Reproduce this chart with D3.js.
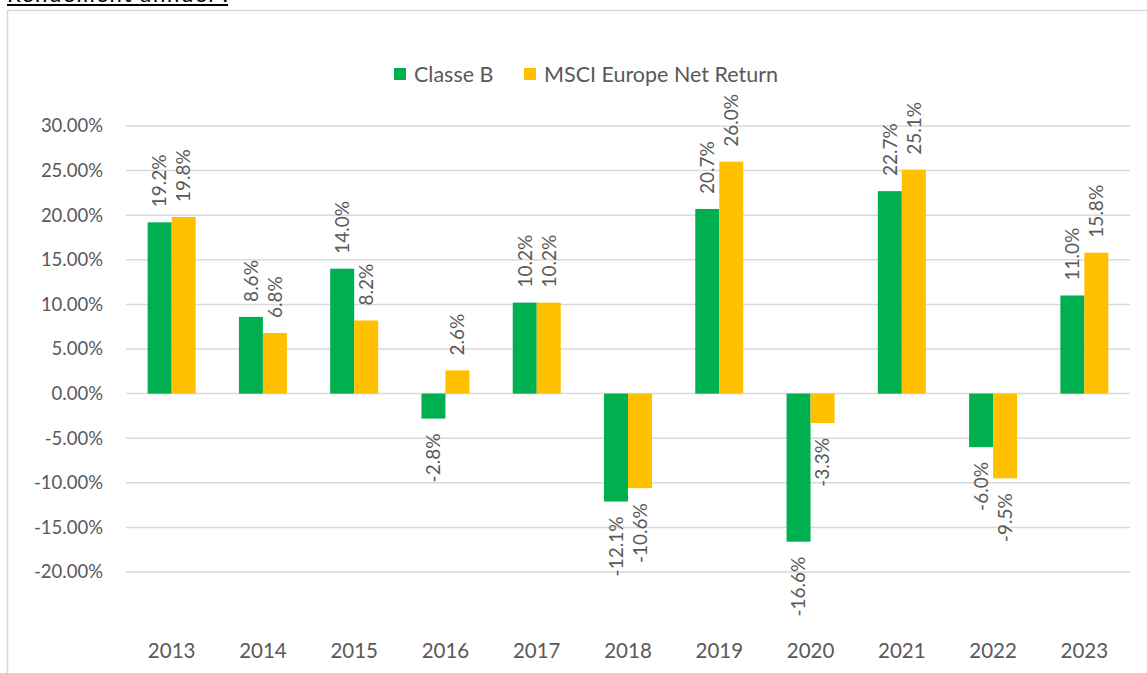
<!DOCTYPE html>
<html>
<head>
<meta charset="utf-8">
<script src="https://cdn.jsdelivr.net/npm/d3@7"></script>
<style>
  body { margin: 0; background: #fff; }
  svg { display: block; font-family: Lato, "Open Sans", sans-serif; }
</style>
</head>
<body>
<div id="container"></div>
<script>
const width = 1147,
    height = 673,
    margin = { top: 126, bottom: 56, left: 126, right: 17 };

// DATA
const years = ["2013", "2014", "2015", "2016", "2017", "2018", "2019", "2020", "2021", "2022", "2023"];
const classeB = [19.2, 8.6, 14.0, -2.8, 10.2, -12.1, 20.7, -16.6, 22.7, -6.0, 11.0];
const msciEurope = [19.8, 6.8, 8.2, 2.6, 10.2, -10.6, 26.0, -3.3, 25.1, -9.5, 15.8];
const seriesNames = ["Classe B", "MSCI Europe Net Return"];
const seriesColors = ["#00B050", "#FFC000"];
const yTicks = [-20, -15, -10, -5, 0, 5, 10, 15, 20, 25, 30];

// table used for the bars
const data = years.map((y, i) => ({ year: y, values: [classeB[i], msciEurope[i]] }));

/**SCALES*/
const xScale = d3.scaleBand()
    .domain(years)
    .range([margin.left, width - margin.right])
    .paddingInner(0.474)
    .paddingOuter(0.237);

const subScale = d3.scaleBand()
    .domain([0, 1])
    .range([0, xScale.bandwidth()]);

// -25% is the bottom of the plot area (no gridline drawn there)
const yScale = d3.scaleLinear()
    .domain([-25, 30])
    .range([616.6, margin.top]);

const colorScale = d3.scaleOrdinal()
    .domain(seriesNames)
    .range(seriesColors);

/*HTML Elements */
const svg = d3.select("#container")
    .append("svg")
    .attr("width", width)
    .attr("height", height);

// chart frame (runs off the right and bottom edges)
svg.append("rect")
    .attr("x", 7.5)
    .attr("y", 10.5)
    .attr("width", 1300)
    .attr("height", 800)
    .attr("fill", "none")
    .attr("stroke", "#d9d9d9")
    .attr("stroke-width", 1.5);

// title, cut off at the top like in the original
svg.append("text")
    .attr("x", 7)
    .attr("y", 2)
    .attr("font-size", 22)
    .attr("fill", "#000")
    .attr("textLength", 221)
    .text("Rendement annuel :");
svg.append("line")
    .attr("x1", 7)
    .attr("x2", 228)
    .attr("y1", 5)
    .attr("y2", 5)
    .attr("stroke", "#000")
    .attr("stroke-width", 2);

// GRIDLINES
svg.append("g")
    .selectAll("line")
    .data(yTicks)
    .join("line")
    .attr("x1", margin.left)
    .attr("x2", width - margin.right)
    .attr("y1", d => yScale(d))
    .attr("y2", d => yScale(d))
    .attr("stroke", "#d9d9d9")
    .attr("stroke-width", 1.5);

// Y AXIS
const yAxis = d3.axisLeft(yScale)
    .tickValues(yTicks)
    .tickFormat(d => d.toFixed(2) + "%")
    .tickSize(0)
    .tickPadding(23);
svg.append("g")
    .attr("class", "axis")
    .attr("transform", `translate(${margin.left},0)`)
    .call(yAxis)
    .call(g => g.select(".domain").remove())
    .call(g => g.selectAll("text")
        .attr("font-size", 18.5)
        .attr("font-family", "Lato, sans-serif")
        .attr("fill", "#595959"));

// X AXIS (labels only)
const xAxis = d3.axisBottom(xScale).tickSize(0).tickPadding(0);
svg.append("g")
    .attr("class", "axis")
    .attr("transform", `translate(0,${658})`)
    .call(xAxis)
    .call(g => g.select(".domain").remove())
    .call(g => g.selectAll("text")
        .attr("dy", 0)
        .attr("y", 0)
        .attr("font-size", 20.5)
        .attr("font-family", "Lato, sans-serif")
        .attr("fill", "#595959"));

// BARS
const groups = svg.append("g")
    .selectAll("g")
    .data(data)
    .join("g")
    .attr("transform", d => `translate(${xScale(d.year)},0)`);

groups.selectAll("rect")
    .data(d => d.values.map((v, i) => ({ v, i })))
    .join("rect")
    .attr("x", d => subScale(d.i))
    .attr("width", subScale.bandwidth())
    .attr("y", d => yScale(Math.max(0, d.v)))
    .attr("height", d => Math.abs(yScale(d.v) - yScale(0)))
    .attr("fill", d => colorScale(seriesNames[d.i]));

// DATA LABELS, rotated
groups.selectAll("text")
    .data(d => d.values.map((v, i) => ({ v, i })))
    .join("text")
    .attr("transform", d => {
        const cx = subScale(d.i) + subScale.bandwidth() / 2;
        const cy = d.v >= 0 ? yScale(d.v) - 15 : yScale(d.v) + 15;
        return `translate(${cx},${cy}) rotate(-90)`;
    })
    .attr("text-anchor", d => d.v >= 0 ? "start" : "end")
    .attr("dy", "0.36em")
    .attr("font-size", 19)
    .attr("fill", "#595959")
    .text(d => d.v.toFixed(1) + "%");

// LEGEND
const legendX = [394, 524];
const legend = svg.append("g")
    .selectAll("g")
    .data(seriesNames)
    .join("g")
    .attr("transform", (d, i) => `translate(${legendX[i]},68)`);

legend.append("rect")
    .attr("width", 12)
    .attr("height", 12)
    .attr("fill", d => colorScale(d));

legend.append("text")
    .attr("x", 20)
    .attr("y", 6)
    .attr("dy", "0.36em")
    .attr("font-size", 21.5)
    .attr("fill", "#595959")
    .text(d => d);
</script>
</body>
</html>
